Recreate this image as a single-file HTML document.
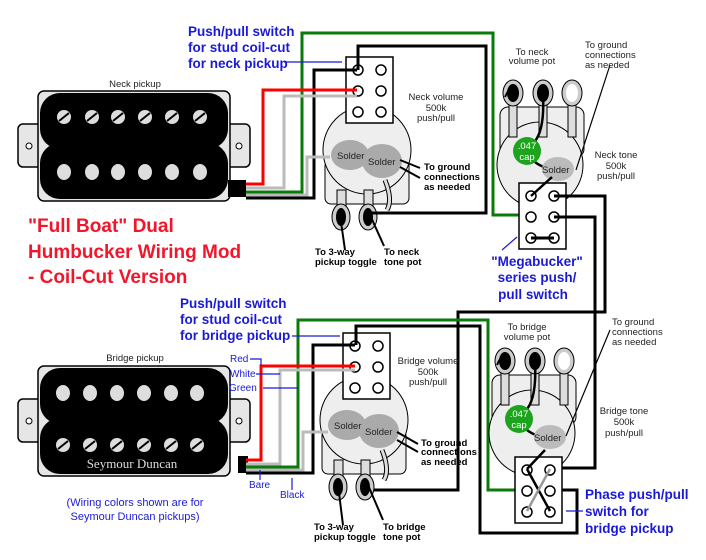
<!DOCTYPE html>
<html><head><meta charset="utf-8"><style>
html,body{margin:0;padding:0;background:#fff;}
svg{display:block;}
text{font-family:"Liberation Sans",sans-serif;}
.b{fill:#1a1ad6;font-weight:bold;font-size:13.5px;}
.s{fill:#222;font-size:9.5px;}
.g{font-size:9.5px;fill:#000;font-weight:bold;}
.t{fill:#f2162a;font-weight:bold;font-size:19px;}
.w{fill:none;stroke-width:3;}
</style></head><body>
<svg width="706" height="560" viewBox="0 0 706 560" xmlns="http://www.w3.org/2000/svg">
<defs>
<g id="pickup">
  <rect x="18" y="33" width="232" height="43" rx="5" fill="#e6e6e6" stroke="#000" stroke-width="1.5"/>
  <circle cx="29" cy="55" r="3" fill="#fff" stroke="#000"/>
  <circle cx="239" cy="55" r="3" fill="#fff" stroke="#000"/>
  <rect x="38" y="0" width="192" height="110" rx="6" fill="#e6e6e6" stroke="#000" stroke-width="1.5"/>
  <rect x="40" y="2" width="188" height="56" rx="20" fill="#000"/>
  <rect x="40" y="52" width="188" height="56" rx="20" fill="#000"/>
  <rect x="52" y="30" width="164" height="50" fill="#000"/>
</g>
<g id="pot">
  <rect x="-42" y="10" width="84" height="44" rx="6" fill="#eee" stroke="#000"/>
  <circle cx="0" cy="0" r="44" fill="#eee" stroke="#000"/>
  <rect x="-30" y="40" width="9" height="28" fill="#ddd" stroke="#000"/>
  <rect x="-3" y="40" width="9" height="28" fill="#ddd" stroke="#000"/>
  <ellipse cx="-26" cy="67" rx="9" ry="13" fill="#ccc" stroke="#000"/>
  <ellipse cx="-26" cy="67" rx="5" ry="9" fill="#000"/>
  <ellipse cx="1" cy="67" rx="9" ry="13" fill="#ccc" stroke="#000"/>
  <ellipse cx="1" cy="67" rx="5" ry="9" fill="#000"/>
  <path d="M18 30 q8 20 2 30" stroke="#000" fill="none" stroke-width="5"/>
  <path d="M18 30 q8 20 2 30" stroke="#ddd" fill="none" stroke-width="3"/>
  <ellipse cx="-17" cy="5" rx="19" ry="15" fill="#aaa"/>
  <ellipse cx="15" cy="11" rx="20" ry="17" fill="#aaa"/>
  <text x="-30" y="9" class="s" font-size="10">Solder</text>
  <text x="1" y="15" class="s" font-size="10">Solder</text>
</g>
<g id="tone">
  <rect x="-40" y="-58" width="84" height="50" rx="8" fill="#eee" stroke="#000"/>
  <circle cx="0" cy="0" r="43" fill="#eee" stroke="#000"/>
  <rect x="-31" y="-68" width="8" height="40" fill="#ddd" stroke="#000"/>
  <rect x="-1" y="-68" width="8" height="40" fill="#ddd" stroke="#000"/>
  <rect x="28" y="-68" width="8" height="40" fill="#ddd" stroke="#000"/>
  <ellipse cx="-27" cy="-72" rx="10" ry="13" fill="#ccc" stroke="#000"/>
  <ellipse cx="-27" cy="-72" rx="6" ry="9" fill="#000"/>
  <ellipse cx="3" cy="-72" rx="10" ry="13" fill="#ccc" stroke="#000"/>
  <ellipse cx="3" cy="-72" rx="6" ry="9" fill="#000"/>
  <ellipse cx="32" cy="-72" rx="10" ry="13" fill="#ccc" stroke="#000"/>
  <ellipse cx="32" cy="-72" rx="6" ry="9" fill="#fff"/>
  <path d="M-27 -80 q-5 5 -8 12" stroke="#000" stroke-width="2" fill="none"/>
  <path d="M3 -70 q2 40 -12 50" stroke="#000" stroke-width="2.5" fill="none"/>
  <path d="M-10 -8 q8 10 22 12" stroke="#000" stroke-width="2.5" fill="none"/>
  <ellipse cx="18" cy="4" rx="16" ry="12" fill="#bbb"/>
  <circle cx="-13" cy="-14" r="14" fill="#1ea31e"/>
  <text x="-13" y="-16" fill="#fff" font-size="9.5" text-anchor="middle">.047</text>
  <text x="-13" y="-5" fill="#fff" font-size="9.5" text-anchor="middle">cap</text>
  <text x="2" y="8" class="s" font-size="10">Solder</text>
</g>
<g id="sw">
  <rect x="0" y="0" width="47" height="66" fill="#fff" stroke="#000" stroke-width="1.5"/>
  <circle cx="12" cy="13" r="5" fill="#fff" stroke="#000" stroke-width="1.5"/>
  <circle cx="35" cy="13" r="5" fill="#fff" stroke="#000" stroke-width="1.5"/>
  <circle cx="12" cy="34" r="5" fill="#fff" stroke="#000" stroke-width="1.5"/>
  <circle cx="35" cy="34" r="5" fill="#fff" stroke="#000" stroke-width="1.5"/>
  <circle cx="12" cy="55" r="5" fill="#fff" stroke="#000" stroke-width="1.5"/>
  <circle cx="35" cy="55" r="5" fill="#fff" stroke="#000" stroke-width="1.5"/>
</g>
</defs>

<!-- NECK -->
<use href="#pickup" x="0" y="91"/>
<g fill="#ddd">
<g transform="translate(64,117)"><circle r="7"/><path d="M-5 4 L5 -4" stroke="#000" stroke-width="2"/></g>
<g transform="translate(92,117)"><circle r="7"/><path d="M-5 4 L5 -4" stroke="#000" stroke-width="2"/></g>
<g transform="translate(118,117)"><circle r="7"/><path d="M-5 4 L5 -4" stroke="#000" stroke-width="2"/></g>
<g transform="translate(145,117)"><circle r="7"/><path d="M-5 4 L5 -4" stroke="#000" stroke-width="2"/></g>
<g transform="translate(172,117)"><circle r="7"/><path d="M-5 4 L5 -4" stroke="#000" stroke-width="2"/></g>
<g transform="translate(200,117)"><circle r="7"/><path d="M-5 4 L5 -4" stroke="#000" stroke-width="2"/></g>
<ellipse cx="64" cy="172" rx="7" ry="8"/><ellipse cx="92" cy="172" rx="7" ry="8"/><ellipse cx="118" cy="172" rx="7" ry="8"/><ellipse cx="145" cy="172" rx="7" ry="8"/><ellipse cx="172" cy="172" rx="7" ry="8"/><ellipse cx="200" cy="172" rx="7" ry="8"/>
</g>
<rect x="228" y="180" width="18" height="17" fill="#000"/>
<text x="135" y="87" class="s" text-anchor="middle">Neck pickup</text>

<use href="#pot" x="367" y="150"/>
<use href="#sw" x="346" y="57"/>
<path class="w" stroke="#000" d="M358 70 V46 H486 V213 H372"/>
<path class="w" stroke="#000" d="M246 198 H314 V70 H357"/>
<path class="w" stroke="#0a7a0a" d="M246 192 H302 V33 H493 V215 H532"/>
<path class="w" stroke="#bbb" d="M246 195 H307 V157 H330"/>
<path class="w" stroke="#bbb" d="M246 188 H284 V96 H357"/>
<path class="w" stroke="#f00" d="M246 184 H263 V90 H357"/>
<path d="M340 215 L345 250 M370 215 L384 246 M400 160 L420 168 M400 167 L420 178" stroke="#000" stroke-width="2" fill="none"/>
<text x="436" y="100" class="s" text-anchor="middle">Neck volume</text>
<text x="436" y="111" class="s" text-anchor="middle">500k</text>
<text x="436" y="121" class="s" text-anchor="middle">push/pull</text>
<text x="424" y="170" class="g">To ground</text><text x="424" y="180" class="g">connections</text><text x="424" y="190" class="g">as needed</text>
<text x="315" y="255" class="g">To 3-way</text><text x="315" y="265" class="g">pickup toggle</text>
<text x="384" y="255" class="g">To neck</text><text x="384" y="265" class="g">tone pot</text>
<text x="188" y="36" class="b">Push/pull switch</text>
<text x="188" y="52" class="b">for stud coil-cut</text>
<text x="188" y="68" class="b">for neck pickup</text>
<path d="M284 62 H342" stroke="#1a1ad6" stroke-width="1.2"/>

<!-- neck tone -->
<use href="#tone" x="540" y="165"/>
<use href="#sw" x="519" y="183"/>
<path d="M531 196 L552 177" stroke="#000" stroke-width="2.5"/>
<path d="M531 238 H554" stroke="#000" stroke-width="3"/>
<path d="M576 170 L610 65" stroke="#000" stroke-width="1.2"/>
<path class="w" stroke="#000" d="M554 196 H605 V312 H458 V490 H372"/>
<path class="w" stroke="#000" d="M554 217 H595 V468 H550"/>
<text x="532" y="55" class="s" text-anchor="middle">To neck</text><text x="532" y="64" class="s" text-anchor="middle">volume pot</text>
<text x="585" y="48" class="s">To ground</text><text x="585" y="58" class="s">connections</text><text x="585" y="68" class="s">as needed</text>
<text x="616" y="158" class="s" text-anchor="middle">Neck tone</text><text x="616" y="169" class="s" text-anchor="middle">500k</text><text x="616" y="179" class="s" text-anchor="middle">push/pull</text>
<path d="M502 250 L517 237" stroke="#1a1ad6" stroke-width="1.2"/>
<text x="537" y="266" class="b" text-anchor="middle">"Megabucker"</text>
<text x="537" y="282" class="b" text-anchor="middle">series push/</text>
<text x="533" y="299" class="b" text-anchor="middle">pull switch</text>

<text x="28" y="232" class="t">"Full Boat" Dual</text>
<text x="28" y="258" class="t">Humbucker Wiring Mod</text>
<text x="28" y="283" class="t">- Coil-Cut Version</text>

<!-- BRIDGE -->
<use href="#pickup" x="0" y="366"/>
<g fill="#ddd">
<ellipse cx="63" cy="393" rx="7" ry="8"/><ellipse cx="90" cy="393" rx="7" ry="8"/><ellipse cx="117" cy="393" rx="7" ry="8"/><ellipse cx="144" cy="393" rx="7" ry="8"/><ellipse cx="171" cy="393" rx="7" ry="8"/><ellipse cx="197" cy="393" rx="7" ry="8"/>
<g transform="translate(63,445)"><circle r="7"/><path d="M-5 4 L5 -4" stroke="#000" stroke-width="2"/></g>
<g transform="translate(90,445)"><circle r="7"/><path d="M-5 4 L5 -4" stroke="#000" stroke-width="2"/></g>
<g transform="translate(117,445)"><circle r="7"/><path d="M-5 4 L5 -4" stroke="#000" stroke-width="2"/></g>
<g transform="translate(144,445)"><circle r="7"/><path d="M-5 4 L5 -4" stroke="#000" stroke-width="2"/></g>
<g transform="translate(171,445)"><circle r="7"/><path d="M-5 4 L5 -4" stroke="#000" stroke-width="2"/></g>
<g transform="translate(197,445)"><circle r="7"/><path d="M-5 4 L5 -4" stroke="#000" stroke-width="2"/></g>
</g>
<text x="132" y="468" fill="#ddd" style="font-family:'Liberation Serif',serif;font-size:13px" text-anchor="middle">Seymour Duncan</text>
<rect x="238" y="456" width="10" height="17" fill="#000"/>
<text x="135" y="361" class="s" text-anchor="middle">Bridge pickup</text>

<use href="#pot" x="364" y="420"/>
<use href="#sw" x="343" y="333"/>
<path class="w" stroke="#000" d="M356 345 V326 H480 V533 H577 V490 H550"/>
<path class="w" stroke="#000" d="M246 473 H313 V345 H355"/>
<path class="w" stroke="#0a7a0a" d="M246 467 H298 V320 H488 V490 H527"/>
<path class="w" stroke="#bbb" d="M246 470 H303 V432 H328"/>
<path class="w" stroke="#bbb" d="M246 464 H280 V370 H355"/>
<path class="w" stroke="#f00" d="M246 460 H261 V366 H355"/>
<path d="M338 485 L343 525 M368 485 L383 520 M397 432 L418 444 M397 440 L418 452" stroke="#000" stroke-width="2" fill="none"/>
<text x="428" y="364" class="s" text-anchor="middle">Bridge volume</text>
<text x="428" y="375" class="s" text-anchor="middle">500k</text>
<text x="428" y="385" class="s" text-anchor="middle">push/pull</text>
<text x="421" y="446" class="g">To ground</text><text x="421" y="455" class="g">connections</text><text x="421" y="465" class="g">as needed</text>
<text x="314" y="530" class="g">To 3-way</text><text x="314" y="540" class="g">pickup toggle</text>
<text x="383" y="530" class="g">To bridge</text><text x="383" y="540" class="g">tone pot</text>
<text x="180" y="308" class="b">Push/pull switch</text>
<text x="180" y="324" class="b">for stud coil-cut</text>
<text x="180" y="340" class="b">for bridge pickup</text>
<path d="M292 336 H340" stroke="#1a1ad6" stroke-width="1.2"/>
<g stroke="#1a1ad6" stroke-width="1.2" fill="none">
<path d="M250 359 H261 V366"/><path d="M256 374 H280"/><path d="M263 388 H298"/><path d="M260 480 V470"/><path d="M292 478 V490"/>
</g>
<g fill="#1a1ad6" font-size="10">
<text x="230" y="362">Red</text><text x="230" y="377">White</text><text x="229" y="391">Green</text>
<text x="249" y="488">Bare</text><text x="280" y="498">Black</text>
</g>
<text x="135" y="506" fill="#1a1ad6" font-size="11" text-anchor="middle">(Wiring colors shown are for</text>
<text x="135" y="520" fill="#1a1ad6" font-size="11" text-anchor="middle">Seymour Duncan pickups)</text>

<use href="#tone" x="532" y="433"/>
<use href="#sw" x="515" y="457"/>
<path d="M527 469 L545 450 M527 469 L550 511" stroke="#000" stroke-width="2.5"/>
<path d="M550 469 L527 511" stroke="#999" stroke-width="2.5"/>
<path d="M566 436 L610 330" stroke="#000" stroke-width="1.2"/>
<text x="527" y="330" class="s" text-anchor="middle">To bridge</text><text x="527" y="340" class="s" text-anchor="middle">volume pot</text>
<text x="612" y="325" class="s">To ground</text><text x="612" y="335" class="s">connections</text><text x="612" y="345" class="s">as needed</text>
<text x="624" y="414" class="s" text-anchor="middle">Bridge tone</text><text x="624" y="425" class="s" text-anchor="middle">500k</text><text x="624" y="436" class="s" text-anchor="middle">push/pull</text>
<path d="M566 511 H583" stroke="#1a1ad6" stroke-width="1.2"/>
<text x="585" y="499" class="b">Phase push/pull</text>
<text x="585" y="516" class="b">switch for</text>
<text x="585" y="533" class="b">bridge pickup</text>
</svg>
</body></html>
